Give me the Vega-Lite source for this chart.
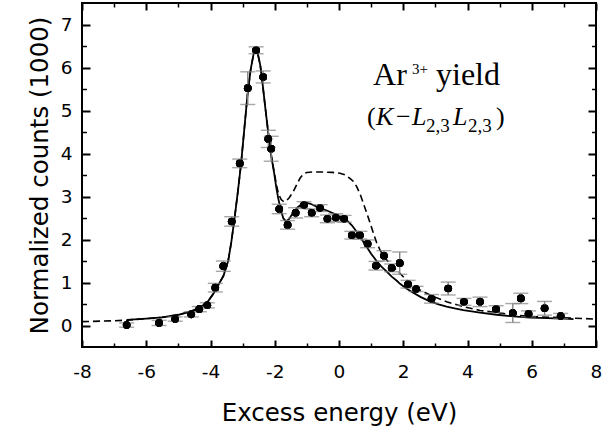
{
  "$schema": "https://vega.github.io/schema/vega-lite/v6.json",
  "width": 514,
  "height": 344,
  "autosize": "none",
  "padding": {"left": 82, "top": 3, "right": 6, "bottom": 92},
  "background": "white",
  "config": {
    "view": {"stroke": "black", "strokeWidth": 2}
  },
  "datasets": {
    "pts": [
      {"e": -6.61, "c": 0.01, "err": 0.05},
      {"e": -5.60, "c": 0.06, "err": 0.06},
      {"e": -5.10, "c": 0.15, "err": 0.05},
      {"e": -4.60, "c": 0.26, "err": 0.06},
      {"e": -4.35, "c": 0.38, "err": 0.06},
      {"e": -4.10, "c": 0.47, "err": 0.06},
      {"e": -3.85, "c": 0.88, "err": 0.10},
      {"e": -3.60, "c": 1.38, "err": 0.12},
      {"e": -3.34, "c": 2.42, "err": 0.11},
      {"e": -3.09, "c": 3.77, "err": 0.10},
      {"e": -2.84, "c": 5.52, "err": 0.38},
      {"e": -2.58, "c": 6.40, "err": 0.08},
      {"e": -2.36, "c": 5.78, "err": 0.14},
      {"e": -2.20, "c": 4.34, "err": 0.20},
      {"e": -2.11, "c": 4.11, "err": 0.29},
      {"e": -1.86, "c": 2.71, "err": 0.11},
      {"e": -1.60, "c": 2.34, "err": 0.10},
      {"e": -1.35, "c": 2.62, "err": 0.12},
      {"e": -1.09, "c": 2.80, "err": 0.08},
      {"e": -0.85, "c": 2.62, "err": 0.09},
      {"e": -0.59, "c": 2.73, "err": 0.08},
      {"e": -0.36, "c": 2.48, "err": 0.09},
      {"e": -0.10, "c": 2.51, "err": 0.09},
      {"e": 0.16, "c": 2.48, "err": 0.08},
      {"e": 0.40, "c": 2.10, "err": 0.09},
      {"e": 0.65, "c": 2.10, "err": 0.09},
      {"e": 0.89, "c": 1.90, "err": 0.09},
      {"e": 1.15, "c": 1.39, "err": 0.10},
      {"e": 1.40, "c": 1.62, "err": 0.12},
      {"e": 1.64, "c": 1.34, "err": 0.09},
      {"e": 1.89, "c": 1.45, "err": 0.26},
      {"e": 2.15, "c": 0.96, "err": 0.09},
      {"e": 2.40, "c": 0.85, "err": 0.06},
      {"e": 2.88, "c": 0.62, "err": 0.10},
      {"e": 3.40, "c": 0.86, "err": 0.15},
      {"e": 3.89, "c": 0.55, "err": 0.08},
      {"e": 4.39, "c": 0.55, "err": 0.11},
      {"e": 4.89, "c": 0.38, "err": 0.08},
      {"e": 5.41, "c": 0.29, "err": 0.22},
      {"e": 5.66, "c": 0.63, "err": 0.12},
      {"e": 5.90, "c": 0.27, "err": 0.07},
      {"e": 6.40, "c": 0.40, "err": 0.16},
      {"e": 6.90, "c": 0.22, "err": 0.06}
    ],
    "fit": [
      {"e": -6.6, "c": 0.13}, {"e": -6.0, "c": 0.16}, {"e": -5.5, "c": 0.19},
      {"e": -5.0, "c": 0.25}, {"e": -4.6, "c": 0.33}, {"e": -4.3, "c": 0.43},
      {"e": -4.1, "c": 0.54}, {"e": -3.9, "c": 0.75}, {"e": -3.75, "c": 0.95},
      {"e": -3.6, "c": 1.15}, {"e": -3.45, "c": 1.50}, {"e": -3.35, "c": 1.95},
      {"e": -3.25, "c": 2.50}, {"e": -3.15, "c": 3.10}, {"e": -3.05, "c": 3.75},
      {"e": -2.95, "c": 4.55}, {"e": -2.85, "c": 5.35}, {"e": -2.75, "c": 5.95},
      {"e": -2.65, "c": 6.35}, {"e": -2.60, "c": 6.43}, {"e": -2.55, "c": 6.40},
      {"e": -2.45, "c": 6.05}, {"e": -2.38, "c": 5.63}, {"e": -2.30, "c": 5.10},
      {"e": -2.20, "c": 4.47}, {"e": -2.10, "c": 3.90}, {"e": -2.02, "c": 3.55},
      {"e": -1.95, "c": 3.20}, {"e": -1.89, "c": 2.95}, {"e": -1.80, "c": 2.65},
      {"e": -1.73, "c": 2.49}, {"e": -1.65, "c": 2.42}, {"e": -1.55, "c": 2.48},
      {"e": -1.45, "c": 2.60}, {"e": -1.30, "c": 2.74}, {"e": -1.15, "c": 2.83},
      {"e": -1.03, "c": 2.86}, {"e": -0.85, "c": 2.82}, {"e": -0.69, "c": 2.76},
      {"e": -0.40, "c": 2.68}, {"e": -0.18, "c": 2.61}, {"e": 0.05, "c": 2.53},
      {"e": 0.24, "c": 2.45}, {"e": 0.40, "c": 2.33}, {"e": 0.55, "c": 2.18},
      {"e": 0.70, "c": 2.01}, {"e": 0.86, "c": 1.83}, {"e": 1.00, "c": 1.67},
      {"e": 1.17, "c": 1.50}, {"e": 1.32, "c": 1.37}, {"e": 1.48, "c": 1.26},
      {"e": 1.65, "c": 1.13}, {"e": 1.80, "c": 1.04}, {"e": 1.90, "c": 0.97},
      {"e": 2.10, "c": 0.86}, {"e": 2.31, "c": 0.76}, {"e": 2.55, "c": 0.66},
      {"e": 2.83, "c": 0.56}, {"e": 3.10, "c": 0.49}, {"e": 3.35, "c": 0.44},
      {"e": 3.60, "c": 0.40}, {"e": 3.87, "c": 0.36}, {"e": 4.39, "c": 0.30},
      {"e": 4.91, "c": 0.25}, {"e": 5.43, "c": 0.21}, {"e": 5.95, "c": 0.185},
      {"e": 6.47, "c": 0.17}, {"e": 7.00, "c": 0.16}, {"e": 7.30, "c": 0.15}
    ],
    "dash": [
      {"e": -8.0, "c": 0.09}, {"e": -7.0, "c": 0.11}, {"e": -6.6, "c": 0.125},
      {"e": -6.0, "c": 0.16}, {"e": -5.5, "c": 0.19},
      {"e": -5.0, "c": 0.25}, {"e": -4.6, "c": 0.33}, {"e": -4.3, "c": 0.43},
      {"e": -4.1, "c": 0.54}, {"e": -3.9, "c": 0.75}, {"e": -3.75, "c": 0.95},
      {"e": -3.6, "c": 1.15}, {"e": -3.45, "c": 1.50}, {"e": -3.35, "c": 1.95},
      {"e": -3.25, "c": 2.50}, {"e": -3.15, "c": 3.10}, {"e": -3.05, "c": 3.75},
      {"e": -2.95, "c": 4.55}, {"e": -2.85, "c": 5.35}, {"e": -2.75, "c": 5.95},
      {"e": -2.65, "c": 6.35}, {"e": -2.60, "c": 6.43}, {"e": -2.55, "c": 6.40},
      {"e": -2.45, "c": 6.05}, {"e": -2.38, "c": 5.63}, {"e": -2.30, "c": 5.10},
      {"e": -2.20, "c": 4.47}, {"e": -2.10, "c": 3.92}, {"e": -2.02, "c": 3.58},
      {"e": -1.95, "c": 3.28}, {"e": -1.88, "c": 3.05}, {"e": -1.80, "c": 2.93},
      {"e": -1.72, "c": 2.88}, {"e": -1.65, "c": 2.89}, {"e": -1.55, "c": 2.97},
      {"e": -1.42, "c": 3.12}, {"e": -1.30, "c": 3.30}, {"e": -1.21, "c": 3.43},
      {"e": -1.10, "c": 3.53}, {"e": -1.00, "c": 3.56}, {"e": -0.80, "c": 3.57},
      {"e": -0.50, "c": 3.57}, {"e": -0.20, "c": 3.56}, {"e": 0.03, "c": 3.54},
      {"e": 0.20, "c": 3.50}, {"e": 0.34, "c": 3.42}, {"e": 0.45, "c": 3.35},
      {"e": 0.55, "c": 3.23}, {"e": 0.66, "c": 3.05}, {"e": 0.76, "c": 2.84},
      {"e": 0.87, "c": 2.60}, {"e": 0.97, "c": 2.38}, {"e": 1.07, "c": 2.15},
      {"e": 1.17, "c": 1.93}, {"e": 1.28, "c": 1.75}, {"e": 1.38, "c": 1.62},
      {"e": 1.60, "c": 1.42}, {"e": 1.90, "c": 1.21}, {"e": 2.31, "c": 0.90},
      {"e": 2.83, "c": 0.71}, {"e": 3.35, "c": 0.55}, {"e": 3.87, "c": 0.44},
      {"e": 4.39, "c": 0.35}, {"e": 4.91, "c": 0.30}, {"e": 5.43, "c": 0.25},
      {"e": 5.95, "c": 0.21}, {"e": 6.98, "c": 0.18}, {"e": 8.00, "c": 0.15}
    ]
  },
  "layer": [
    {
      "data": {"name": "pts"},
      "mark": {"type": "circle", "color": "black", "size": 58, "opacity": 1},
      "encoding": {
        "x": {
          "field": "e", "type": "quantitative",
          "scale": {"domain": [-8, 8], "nice": false, "zero": false},
          "axis": {
            "orient": "bottom", "gridOpacity": 0, "domainOpacity": 0,
            "values": [-8, -6, -4, -2, 0, 2, 4, 6, 8],
            "labelExpr": "toString(datum.value)",
            "tickSize": -7, "tickWidth": 2, "tickColor": "black",
            "labelPadding": 22, "labelFlush": false,
            "labelFont": "DejaVu Sans", "labelFontSize": 18.5, "labelColor": "black",
            "title": "Excess energy (eV)", "titlePadding": 21,
            "titleFont": "DejaVu Sans", "titleFontSize": 24.5, "titleFontWeight": "normal", "titleColor": "black"
          }
        },
        "y": {
          "field": "c", "type": "quantitative",
          "scale": {"domain": [-0.5, 7.5], "nice": false, "zero": false},
          "axis": {
            "orient": "left", "gridOpacity": 0, "domainOpacity": 0,
            "values": [0, 1, 2, 3, 4, 5, 6, 7],
            "labelExpr": "toString(datum.value)",
            "tickSize": -8, "tickWidth": 2, "tickColor": "black",
            "labelPadding": 18, "labelFlush": false,
            "labelFont": "DejaVu Sans", "labelFontSize": 18.5, "labelColor": "black",
            "title": "Normalized counts (1000)", "titlePadding": 8,
            "titleFont": "DejaVu Sans", "titleFontSize": 24.5, "titleFontWeight": "normal", "titleColor": "black"
          }
        }
      }
    },
    {
      "data": {"name": "pts"},
      "mark": {"type": "circle", "color": "black", "size": 58, "opacity": 1},
      "encoding": {
        "x": {
          "field": "e", "type": "quantitative",
          "axis": {"orient": "top", "gridOpacity": 0, "domainOpacity": 0, "values": [-8, -6, -4, -2, 0, 2, 4, 6, 8], "labels": false, "tickSize": -7, "tickWidth": 2, "tickColor": "black", "title": null}
        },
        "y": {
          "field": "c", "type": "quantitative",
          "axis": {"orient": "right", "gridOpacity": 0, "domainOpacity": 0, "values": [0, 1, 2, 3, 4, 5, 6, 7], "labels": false, "tickSize": -8, "tickWidth": 2, "tickColor": "black", "title": null}
        }
      }
    },
    {
      "data": {"name": "pts"},
      "mark": {"type": "circle", "color": "black", "size": 58, "opacity": 1},
      "encoding": {
        "x": {
          "field": "e", "type": "quantitative",
          "axis": {"orient": "bottom", "gridOpacity": 0, "domainOpacity": 0, "values": [-7, -5, -3, -1, 1, 3, 5, 7], "labels": false, "tickSize": -4, "tickWidth": 1.5, "tickColor": "black", "title": null}
        },
        "y": {
          "field": "c", "type": "quantitative",
          "axis": {"orient": "left", "gridOpacity": 0, "domainOpacity": 0, "values": [0.5, 1.5, 2.5, 3.5, 4.5, 5.5, 6.5], "labels": false, "tickSize": -4.5, "tickWidth": 1.5, "tickColor": "black", "title": null}
        }
      }
    },
    {
      "data": {"name": "pts"},
      "mark": {"type": "circle", "color": "black", "size": 58, "opacity": 1},
      "encoding": {
        "x": {
          "field": "e", "type": "quantitative",
          "axis": {"orient": "top", "gridOpacity": 0, "domainOpacity": 0, "values": [-7, -5, -3, -1, 1, 3, 5, 7], "labels": false, "tickSize": -4, "tickWidth": 1.5, "tickColor": "black", "title": null}
        },
        "y": {
          "field": "c", "type": "quantitative",
          "axis": {"orient": "right", "gridOpacity": 0, "domainOpacity": 0, "values": [0.5, 1.5, 2.5, 3.5, 4.5, 5.5, 6.5], "labels": false, "tickSize": -4.5, "tickWidth": 1.5, "tickColor": "black", "title": null}
        }
      }
    },
    {
      "data": {"name": "dash"},
      "mark": {"type": "line", "color": "black", "strokeWidth": 1.6, "strokeDash": [7, 4]},
      "encoding": {
        "x": {"field": "e", "type": "quantitative", "axis": null},
        "y": {"field": "c", "type": "quantitative", "axis": null},
        "order": {"field": "e", "type": "quantitative"}
      }
    },
    {
      "data": {"name": "fit"},
      "mark": {"type": "line", "color": "black", "strokeWidth": 1.8},
      "encoding": {
        "x": {"field": "e", "type": "quantitative", "axis": null},
        "y": {"field": "c", "type": "quantitative", "axis": null},
        "order": {"field": "e", "type": "quantitative"}
      }
    },
    {
      "data": {"name": "pts"},
      "mark": {"type": "errorbar", "ticks": {"size": 15, "thickness": 1.4, "color": "#808080"}, "rule": {"color": "#808080", "strokeWidth": 1.4}},
      "encoding": {
        "x": {"field": "e", "type": "quantitative", "axis": null},
        "y": {"field": "c", "type": "quantitative", "axis": null},
        "yError": {"field": "err"}
      }
    },
    {
      "data": {"name": "pts"},
      "mark": {"type": "circle", "color": "black", "size": 58, "opacity": 1},
      "encoding": {
        "x": {"field": "e", "type": "quantitative", "axis": null},
        "y": {"field": "c", "type": "quantitative", "axis": null}
      }
    },
    {
      "data": {"values": [{"e": 1.06, "c": 5.593, "t": "Ar"}, {"e": 3.02, "c": 5.593, "t": "yield"}]},
      "mark": {"type": "text", "font": "Liberation Serif", "fontSize": 32, "align": "left", "baseline": "alphabetic", "color": "black"},
      "encoding": {
        "x": {"field": "e", "type": "quantitative", "axis": null},
        "y": {"field": "c", "type": "quantitative", "axis": null},
        "text": {"field": "t"}
      }
    },
    {
      "data": {"values": [{"e": 2.27, "c": 5.85, "t": "3+"}]},
      "mark": {"type": "text", "font": "Liberation Serif", "fontSize": 15, "align": "left", "baseline": "alphabetic", "color": "black"},
      "encoding": {
        "x": {"field": "e", "type": "quantitative", "axis": null},
        "y": {"field": "c", "type": "quantitative", "axis": null},
        "text": {"field": "t"}
      }
    },
    {
      "data": {"values": [{"e": 0.872, "c": 4.663, "t": "("}, {"e": 1.774, "c": 4.663, "t": "−"}, {"e": 4.887, "c": 4.663, "t": ")"}]},
      "mark": {"type": "text", "font": "Liberation Serif", "fontSize": 26, "align": "left", "baseline": "alphabetic", "color": "black"},
      "encoding": {
        "x": {"field": "e", "type": "quantitative", "axis": null},
        "y": {"field": "c", "type": "quantitative", "axis": null},
        "text": {"field": "t"}
      }
    },
    {
      "data": {"values": [{"e": 1.152, "c": 4.663, "t": "K"}, {"e": 2.272, "c": 4.663, "t": "L"}, {"e": 3.549, "c": 4.663, "t": "L"}]},
      "mark": {"type": "text", "font": "Liberation Serif", "fontSize": 26, "fontStyle": "italic", "align": "left", "baseline": "alphabetic", "color": "black"},
      "encoding": {
        "x": {"field": "e", "type": "quantitative", "axis": null},
        "y": {"field": "c", "type": "quantitative", "axis": null},
        "text": {"field": "t"}
      }
    },
    {
      "data": {"values": [{"e": 2.708, "c": 4.5, "t": "2,3"}, {"e": 4.015, "c": 4.5, "t": "2,3"}]},
      "mark": {"type": "text", "font": "Liberation Serif", "fontSize": 19, "align": "left", "baseline": "alphabetic", "color": "black"},
      "encoding": {
        "x": {"field": "e", "type": "quantitative", "axis": null},
        "y": {"field": "c", "type": "quantitative", "axis": null},
        "text": {"field": "t"}
      }
    }
  ],
  "resolve": {"axis": {"x": "independent", "y": "independent"}}
}
